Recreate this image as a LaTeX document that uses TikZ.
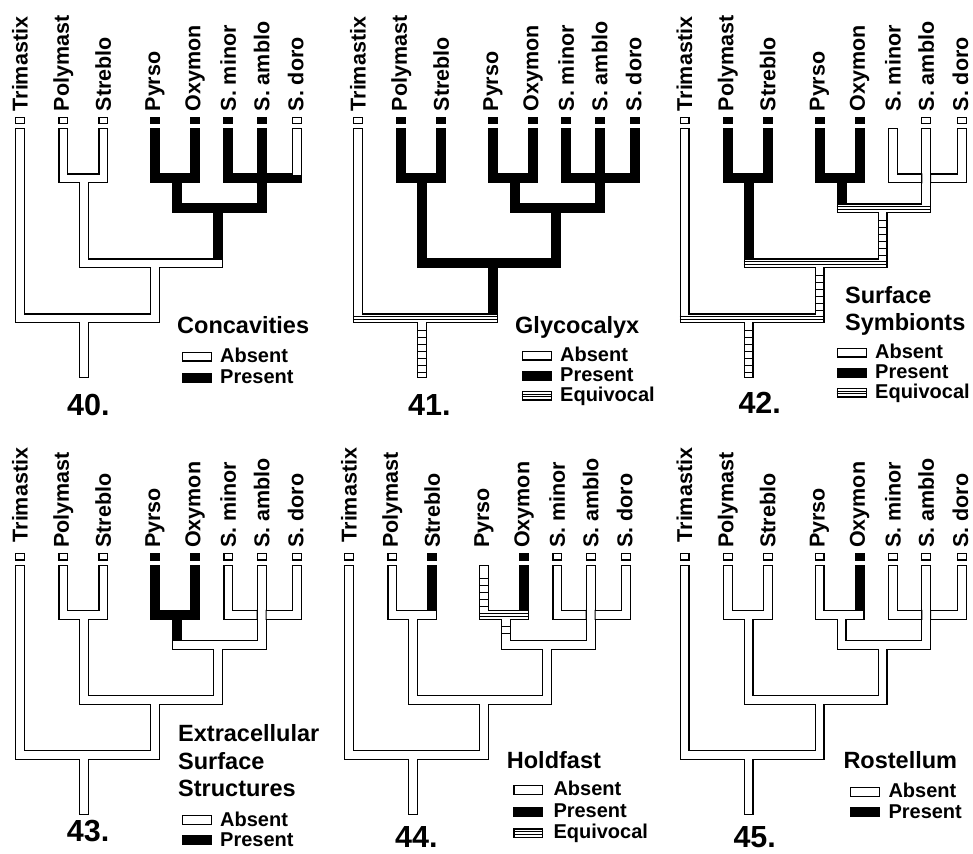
\documentclass[tikz,border=0pt]{standalone}
\usepackage{fontspec}
\setmainfont{Liberation Sans}

\newcommand\tipfont{\fontsize{21.5}{21.5}\selectfont\bfseries}
\newcommand\headfont{\fontsize{23.5}{23.5}\selectfont\bfseries}
\newcommand\keyfont{\fontsize{20}{20}\selectfont\bfseries}
\newcommand\numfont{\fontsize{30.5}{30.5}\selectfont\bfseries}

% states: a = absent, p = present, e = equivocal, o = absent without tip box
\def\setstates#1#2#3#4#5#6#7#8#9{\def\sT{#1}\def\sPm{#2}\def\sSt{#3}\def\sPS{#4}%
  \def\sPy{#5}\def\sOx{#6}\def\sPO{#7}\def\sSm{#8}\def\sSa{#9}\setstatesb}
\def\setstatesb#1#2#3#4#5{\def\sSd{#1}\def\sSS{#2}\def\sNb{#3}\def\sNc{#4}\def\sR{#5}}

% branch outlines
\newcommand\ve[3]{\fill (#1-5,#2) rectangle (#1+5,#3);}
\newcommand\he[3]{\fill (#1-5,#3-5) rectangle (#2+5,#3+5);}

% inside of a vertical branch
\newcommand\vpainta[3]{\fill[white] (#1-3.8,#2) rectangle (#1+3.8,#3);}
\newcommand\vpaintp[3]{\fill[black] (#1-3.8,#2) rectangle (#1+3.8,#3);}
\newcommand\vpainte[3]{\vpainta{#1}{#2}{#3}%
  \pgfmathtruncatemacro\rgN{(#3-#2-16.5)/7}%
  \foreach \k in {0,...,\rgN}{%
    \pgfmathsetmacro\yy{#2+12+7*\k}
    \draw[line width=1pt] (#1-3.8,\yy) -- (#1+3.8,\yy);}}
\let\vpainto\vpainta
\newcommand\vp[1]{\csname vpaint#1\endcsname}

% inside of a node bar
\newcommand\hpainta[3]{\fill[white] (#1-3.8,#3-3.8) rectangle (#2+3.8,#3+3.8);}
\newcommand\hpaintp[3]{\fill[black] (#1-3.8,#3-3.8) rectangle (#2+3.8,#3+3.8);}
\newcommand\hpainte[3]{\hpainta{#1}{#2}{#3}%
  \draw[line width=1pt] (#1-5,#3-1.4) -- (#2+5,#3-1.4) (#1-5,#3+1.4) -- (#2+5,#3+1.4);}
\newcommand\hp[1]{\csname hpaint#1\endcsname}

% tip boxes
\newcommand\tboxa[1]{\draw[line width=1.2pt,fill=white] (#1-4.4,117.3) rectangle (#1+4.4,123.4);}
\newcommand\tboxp[1]{\fill (#1-5,116.7) rectangle (#1+5,124);}
\newcommand\tboxe[1]{}
\let\tboxo\tboxe
\newcommand\tb[1]{\csname tbox#1\endcsname}

% legend swatches
\newcommand\keya[2]{\draw[line width=1.2pt,fill=white] (#1+0.6,#2-4.4) rectangle (#1+29.4,#2+4.4);}
\newcommand\keyp[2]{\fill (#1,#2-5) rectangle (#1+30,#2+5);}
\newcommand\keye[2]{\keya{#1}{#2}\draw[line width=1pt] (#1,#2-1.4) -- (#1+30,#2-1.4) (#1,#2+1.4) -- (#1+30,#2+1.4);}

% one tree: [#1] Trimastix label y, #2 name, (#3,#4) shift,
% #5 states of T Pm St PS Py Ox PO Sm Sa Sd SS N2 N3 R
\newcommand\clade[5][111.5]{%
  \setstates#5%
  \begin{scope}[shift={(#3,#4)}]
    \node[taxon] (#2-T)  at (20,#1)       {Trimastix};
    \node[taxon] (#2-Pm) at (63.3,111.5)  {Polymast};
    \node[taxon] (#2-St) at (103.3,111.5) {Streblo};
    \node[taxon] (#2-Py) at (155,111.5)   {Pyrso};
    \node[taxon] (#2-Ox) at (195,111.5)   {Oxymon};
    \node[taxon] (#2-Sm) at (228.3,111.5) {S. minor};
    \node[taxon] (#2-Sa) at (261.7,111.5) {S. amblo};
    \node[taxon] (#2-Sd) at (295.8,111.5) {S. doro};
    \tb\sT{20} \tb\sPm{63.3} \tb\sSt{103.3} \tb\sPy{155}
    \tb\sOx{195} \tb\sSm{228.3} \tb\sSa{261.7} \tb\sSd{297.2}
    % outlines
    \ve{20}{128.3}{318.3}
    \ve{63.3}{128.3}{178.3}  \ve{103.3}{128.3}{178.3}
    \ve{155}{128.3}{178.3}   \ve{195}{128.3}{178.3}
    \ve{228.3}{128.3}{178.3} \ve{261.7}{128.3}{208.3} \ve{297.2}{128.3}{178.3}
    \ve{84}{178.3}{263.3}  \ve{177}{178.3}{208.3} \ve{218}{208.3}{263.3}
    \ve{155}{263.3}{318.3} \ve{84}{318.3}{378.3}
    \he{63.3}{103.3}{178.3} \he{155}{195}{178.3} \he{228.3}{297.2}{178.3}
    \he{177}{261.7}{208.3}  \he{84}{218}{263.3}  \he{20}{155}{318.3}
    % branches, then node bars
    \vp\sT{20}{129.5}{318.3}
    \vp\sPm{63.3}{129.5}{178.3}  \vp\sSt{103.3}{129.5}{178.3}
    \vp\sPy{155}{129.5}{178.3}   \vp\sOx{195}{129.5}{178.3}
    \vp\sSm{228.3}{129.5}{178.3} \vp\sSa{261.7}{129.5}{208.3} \vp\sSd{297.2}{129.5}{178.3}
    \vp\sPS{84}{178.3}{263.3}  \vp\sPO{177}{178.3}{208.3} \vp\sNb{218}{208.3}{263.3}
    \vp\sNc{155}{263.3}{318.3} \vp\sR{84}{318.3}{377.1}
    \hp\sPS{63.3}{103.3}{178.3} \hp\sPO{155}{195}{178.3} \hp\sSS{228.3}{297.2}{178.3}
    \hp\sNb{177}{261.7}{208.3}  \hp\sNc{84}{218}{263.3}  \hp\sR{20}{155}{318.3}
    % S. amblo runs over the minor/doro bar
    \fill (256.7,173.3) rectangle (257.9,183.3) (265.5,173.3) rectangle (266.7,183.3);
  \end{scope}}

\begin{document}
\begin{tikzpicture}[x=1pt,y=-1pt,
  taxon/.style={rotate=90,anchor=west,inner sep=0pt,font=\tipfont},
  head/.style={anchor=base west,inner sep=0pt,font=\headfont},
  key/.style={anchor=base west,inner sep=0pt,font=\keyfont},
  fignum/.style={anchor=base west,inner sep=0pt,font=\numfont}]
  \useasboundingbox (0,0) rectangle (973,853);
  \fill[white] (0,0) rectangle (973,853);

  \clade{c40}{0}{0}{aaaapppppappaa}
  \clade{c41}{338}{0}{appppppppppppe}
  \clade{c42}{664.5}{0}{appppppoaaaeee}
  \clade[106]{c43}{0}{436.5}{aaaapppaaaaaaa}
  \clade[106]{c44}{329}{436.5}{aapaepeaaaaaaa}
  \clade[106]{c45}{664.5}{436.5}{aaaaapaaaaaaaa}

  % 40
  \node[head] (h40) at (177,333) {Concavities};
  \keya{181.7}{356.5} \node[key] (a40) at (220,362.3) {Absent};
  \keyp{181.7}{377.5} \node[key] (p40) at (220,383.3) {Present};
  \node[fignum] (n40) at (67,415) {40.};

  % 41
  \node[head] (h41) at (515,333) {Glycocalyx};
  \keya{521.7}{355.5} \node[key] (a41) at (560,361.7) {Absent};
  \keyp{521.7}{375.5} \node[key] (p41) at (560,381.7) {Present};
  \keye{521.7}{395.5} \node[key] (e41) at (560,401.7) {Equivocal};
  \node[fignum] (n41) at (408,415) {41.};

  % 42
  \node[head] (h42a) at (845,303.3) {Surface};
  \node[head] (h42b) at (845,330) {Symbionts};
  \keya{836.7}{352.5} \node[key] (a42) at (875,358.5) {Absent};
  \keyp{836.7}{372.5} \node[key] (p42) at (875,378.5) {Present};
  \keye{836.7}{392.5} \node[key] (e42) at (875,398.5) {Equivocal};
  \node[fignum] (n42) at (738.3,413.3) {42.};

  % 43
  \node[head] (h43a) at (178,741.7) {Extracellular};
  \node[head] (h43b) at (178,769) {Surface};
  \node[head] (h43c) at (178,796.5) {Structures};
  \keya{181.7}{820} \node[key] (a43) at (220,826.5) {Absent};
  \keyp{181.7}{840} \node[key] (p43) at (220,846.5) {Present};
  \node[fignum] (n43) at (66.7,841.7) {43.};

  % 44
  \node[head] (h44) at (506.7,768.3) {Holdfast};
  \keya{513.3}{790} \node[key] (a44) at (553.3,795.5) {Absent};
  \keyp{513.3}{811.7} \node[key] (p44) at (553.3,817) {Present};
  \keye{513.3}{833.3} \node[key] (e44) at (553.3,838.8) {Equivocal};
  \node[fignum] (n44) at (395,847) {44.};

  % 45
  \node[head] (h45) at (843.3,768.3) {Rostellum};
  \keya{850}{791.7} \node[key] (a45) at (888.3,797.7) {Absent};
  \keyp{850}{811.7} \node[key] (p45) at (888.3,818) {Present};
  \node[fignum] (n45) at (733.3,847.5) {45.};
\end{tikzpicture}
\end{document}
